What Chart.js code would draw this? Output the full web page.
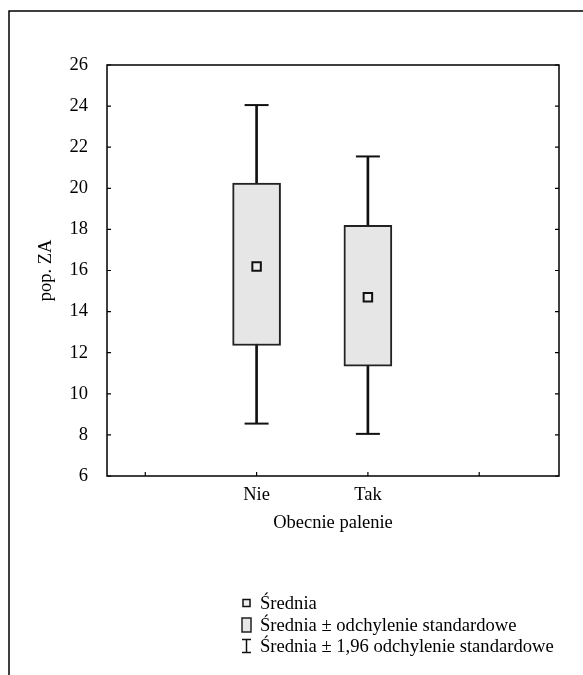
<!DOCTYPE html>
<html>
<head>
<meta charset="utf-8">
<script src="https://cdn.jsdelivr.net/npm/chart.js@4.4.0/dist/chart.umd.min.js"></script>
<style>
    body { margin: 0; background: #fff; }
    #wrap { position: relative; width: 583px; height: 675px; overflow: hidden; }
    #legend {
        position: absolute; left: 241px; top: 592px;
        font-family: "Liberation Serif", "Times New Roman", serif; font-size: 18.6px; color: #000;
    }
    #legend .row { height: 21.5px; line-height: 21.5px; white-space: nowrap; }
    #legend svg { display: inline-block; vertical-align: middle; margin-right: 8px; margin-top: -3px; }
</style>
</head>
<body>
<div id="wrap">
    <canvas id="chart" width="583" height="675"></canvas>
    <div id="legend">
        <div class="row"><svg width="11" height="14"><rect x="2" y="3.5" width="7" height="7" fill="#eee" stroke="#111" stroke-width="1.5"/></svg>Średnia</div>
        <div class="row"><svg width="11" height="16"><rect x="1" y="1" width="9" height="14" fill="#e6e6e6" stroke="#222" stroke-width="1.5"/></svg>Średnia ± odchylenie standardowe</div>
        <div class="row"><svg width="11" height="16"><path d="M1 1.5H10M5.5 1.5V14.5M1 14.5H10" stroke="#111" stroke-width="1.5" fill="none"/></svg>Średnia ± 1,96 odchylenie standardowe</div>
    </div>
</div>
<script>
const xTickLabels = ["", "Nie", "Tak", ""];
const categories = ["Nie", "Tak"];
const means = [16.2, 14.7];
const sdLow = [12.35, 11.35];
const sdHigh = [20.25, 18.2];
const ciLow = [8.55, 8.05];
const ciHigh = [24.05, 21.55];
const yTicks = [6, 8, 10, 12, 14, 16, 18, 20, 22, 24, 26];

const serif = "'Liberation Serif', 'Times New Roman', serif";
const fontSize = 18.5;

// x position of a category on the linear x axis (tick number)
function catX(cat) {
    return xTickLabels.indexOf(cat) + 1;
}

const xTickValues = xTickLabels.map((l, i) => i + 1);

// frame, plot box and inward tick marks
const framePlugin = {
    id: "frame",
    afterDraw(chart) {
        const ctx = chart.ctx;
        const a = chart.chartArea;
        const xs = chart.scales.x;
        const ys = chart.scales.y;
        ctx.save();
        ctx.strokeStyle = "#000";
        ctx.lineWidth = 1.5;
        ctx.beginPath();
        ctx.moveTo(9, chart.height);
        ctx.lineTo(9, 11);
        ctx.lineTo(chart.width, 11);
        ctx.stroke();

        ctx.strokeRect(a.left, a.top, a.right - a.left, a.bottom - a.top);

        ctx.lineWidth = 1.2;
        ctx.beginPath();
        yTicks.forEach(v => {
            const y = ys.getPixelForValue(v);
            ctx.moveTo(a.left, y);
            ctx.lineTo(a.left + 4, y);
            ctx.moveTo(a.right, y);
            ctx.lineTo(a.right - 4, y);
        });
        xTickValues.forEach(v => {
            const x = xs.getPixelForValue(v);
            ctx.moveTo(x, a.bottom);
            ctx.lineTo(x, a.bottom - 4);
        });
        ctx.stroke();
        ctx.restore();
    }
};

new Chart(document.getElementById("chart"), {
    data: {
        datasets: [
            {
                type: "scatter",
                label: "Średnia",
                data: categories.map((c, i) => ({x: catX(c), y: means[i]})),
                pointStyle: "rect",
                radius: 6,
                backgroundColor: "#ececec",
                borderColor: "#111",
                borderWidth: 2,
                order: 0
            },
            {
                type: "scatter",
                label: "caps",
                data: categories.flatMap((c, i) => [
                    {x: catX(c), y: ciHigh[i]},
                    {x: catX(c), y: ciLow[i]}
                ]),
                pointStyle: "line",
                radius: 12,
                borderColor: "#111",
                borderWidth: 2,
                order: 1
            },
            {
                type: "bar",
                label: "Średnia ± odchylenie standardowe",
                data: categories.map((c, i) => ({x: catX(c), y: [sdLow[i], sdHigh[i]]})),
                barThickness: 48,
                grouped: false,
                backgroundColor: "#e6e6e6",
                borderColor: "#222",
                borderWidth: 2,
                borderSkipped: false,
                order: 2
            },
            {
                type: "bar",
                label: "Średnia ± 1,96 odchylenie standardowe",
                data: categories.map((c, i) => ({x: catX(c), y: [ciLow[i], ciHigh[i]]})),
                barThickness: 2,
                grouped: false,
                backgroundColor: "#111",
                borderWidth: 0,
                order: 3
            }
        ]
    },
    options: {
        responsive: false,
        animation: false,
        layout: {
            padding: {top: 65, right: 24, bottom: 139, left: 0}
        },
        plugins: {
            legend: {display: false},
            tooltip: {enabled: false}
        },
        scales: {
            x: {
                type: "linear",
                offset: false,
                min: 0.656,
                max: 4.717,
                afterFit: s => { s.height = 60; },
                afterBuildTicks: s => { s.ticks = xTickValues.map(v => ({value: v})); },
                grid: {display: false, drawTicks: false, offset: false},
                border: {display: false},
                ticks: {
                    padding: 8,
                    color: "#000",
                    font: {family: serif, size: fontSize},
                    callback: v => xTickLabels[v - 1] || ""
                },
                title: {
                    display: true,
                    text: "Obecnie palenie",
                    color: "#000",
                    font: {family: serif, size: fontSize},
                    padding: {top: 0, bottom: 2}
                }
            },
            y: {
                min: 6,
                max: 26,
                afterFit: s => { s.width = 107; },
                afterBuildTicks: s => { s.ticks = yTicks.map(v => ({value: v})); },
                grid: {display: false, drawTicks: false},
                border: {display: false},
                ticks: {
                    padding: 19,
                    color: "#000",
                    font: {family: serif, size: fontSize}
                },
                title: {
                    display: true,
                    text: "pop. ZA",
                    color: "#000",
                    font: {family: serif, size: fontSize},
                    padding: {top: 35, bottom: 0}
                }
            }
        }
    },
    plugins: [framePlugin]
});
</script>
</body>
</html>
